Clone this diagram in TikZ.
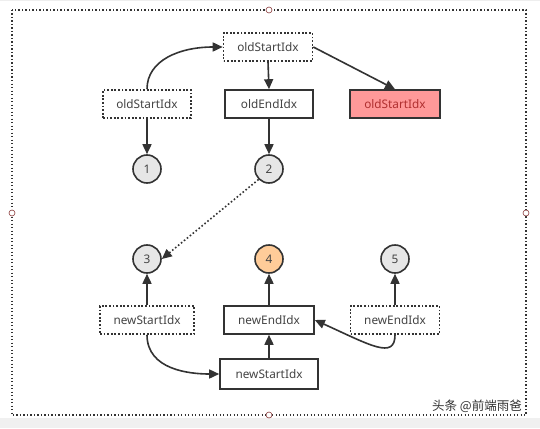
\documentclass[tikz,border=0pt]{standalone}
\usepackage{fontspec}
\setmainfont{Noto Sans}
\newfontfamily\cjk{Noto Sans CJK SC}
\usetikzlibrary{arrows.meta}
\definecolor{ink}{HTML}{333333}
\definecolor{txt}{HTML}{444444}
\definecolor{cgray}{HTML}{E6E6E6}
\definecolor{corange}{HTML}{FFCC99}
\definecolor{cred}{HTML}{FF9999}
\definecolor{credtxt}{HTML}{B03030}
\definecolor{gridc}{HTML}{EEEEEE}
\definecolor{handle}{HTML}{8B3A3A}
\tikzset{
  base/.style={draw=ink, line width=1.6pt, minimum width=88pt, minimum height=28pt, inner sep=0pt, font=\fontsize{11.8pt}{13pt}\selectfont, text=txt},
  solidbox/.style={base, fill=white},
  dotbox/.style={base, fill=white, dash pattern=on 1.8pt off 1.8pt},
  redbox/.style={base, fill=cred, text=credtxt},
  numc/.style={circle, draw=ink, line width=1.6pt, minimum size=28pt, inner sep=0pt, fill=cgray, font=\fontsize{11.8pt}{13pt}\selectfont, text=txt},
  conn/.style={draw=ink, line width=1.6pt, -{Triangle[length=10pt,width=9pt]}},
  handlec/.style={circle, draw=handle, line width=0.6pt, fill=white, minimum size=6pt, inner sep=0pt}
}
\begin{document}
\begin{tikzpicture}[x=1pt,y=-1pt]
\useasboundingbox (0,0) rectangle (540,428);
\fill[white] (0,0) rectangle (540,428);
\begin{scope}
\clip (0,0) rectangle (540,418);
\draw[gridc, line width=0.5pt, step=13pt] (0,0) grid (540,-428);
\end{scope}
\fill[white] (12,10) rectangle (526,415);
\fill[gray!12] (0,418) rectangle (540,428);
\draw[ink, line width=1.3pt, dash pattern=on 1.3pt off 2.2pt] (12,10) rectangle (526,415);
\node[handlec] (h1) at (269,10) {};
\node[handlec] (h2) at (12,213) {};
\node[handlec] (h3) at (526,213) {};
\node[handlec] (h4) at (269,415) {};

\node[dotbox, minimum width=89pt] (top) at (268,47) {oldStartIdx};
\node[dotbox] (osl) at (147,104) {oldStartIdx};
\node[solidbox] (oe) at (269,104) {oldEndIdx};
\node[redbox, minimum width=90pt] (red) at (395,104) {oldStartIdx};

\node[numc] (c1) at (147,169) {1};
\node[numc] (c2) at (269,169) {2};
\node[numc] (c3) at (147,259) {3};
\node[numc, fill=corange] (c4) at (269,259) {4};
\node[numc] (c5) at (395,259) {5};

\node[dotbox, minimum width=94pt] (nsl) at (147,320) {newStartIdx};
\node[solidbox, minimum width=90pt] (ne) at (269,320) {newEndIdx};
\node[dotbox, minimum width=89pt] (ner) at (395,320) {newEndIdx};
\node[solidbox, minimum width=98pt, minimum height=30pt] (nsb) at (269,374) {newStartIdx};

\draw[conn] (osl.north) .. controls (147,60) and (180,47) .. (top.west);
\draw[conn] (top.south) -- (oe.north);
\draw[conn] (top.east) -- (red.north);
\draw[conn] (osl.south) -- (c1.north);
\draw[conn] (oe.south) -- (c2.north);
\draw[conn, dash pattern=on 1.6pt off 2.2pt] (c2.south west) -- (c3.east);
\draw[conn] (nsl.north) -- (c3.south);
\draw[conn] (ne.north) -- (c4.south);
\draw[conn] (ner.north) -- (c5.south);
\draw[conn] (nsl.south) .. controls (147,370) and (190,374) .. (nsb.west);
\draw[conn] (nsb.north) -- (ne.south);
\draw[conn] (ner.south) .. controls (395,360) and (370,345) .. (ne.east);

\node[font=\cjk\fontsize{12.5pt}{14pt}\selectfont, text=ink, anchor=east, fill=white, inner sep=1pt] (wm) at (523,406) {头条 @前端雨爸};
\end{tikzpicture}
\end{document}
